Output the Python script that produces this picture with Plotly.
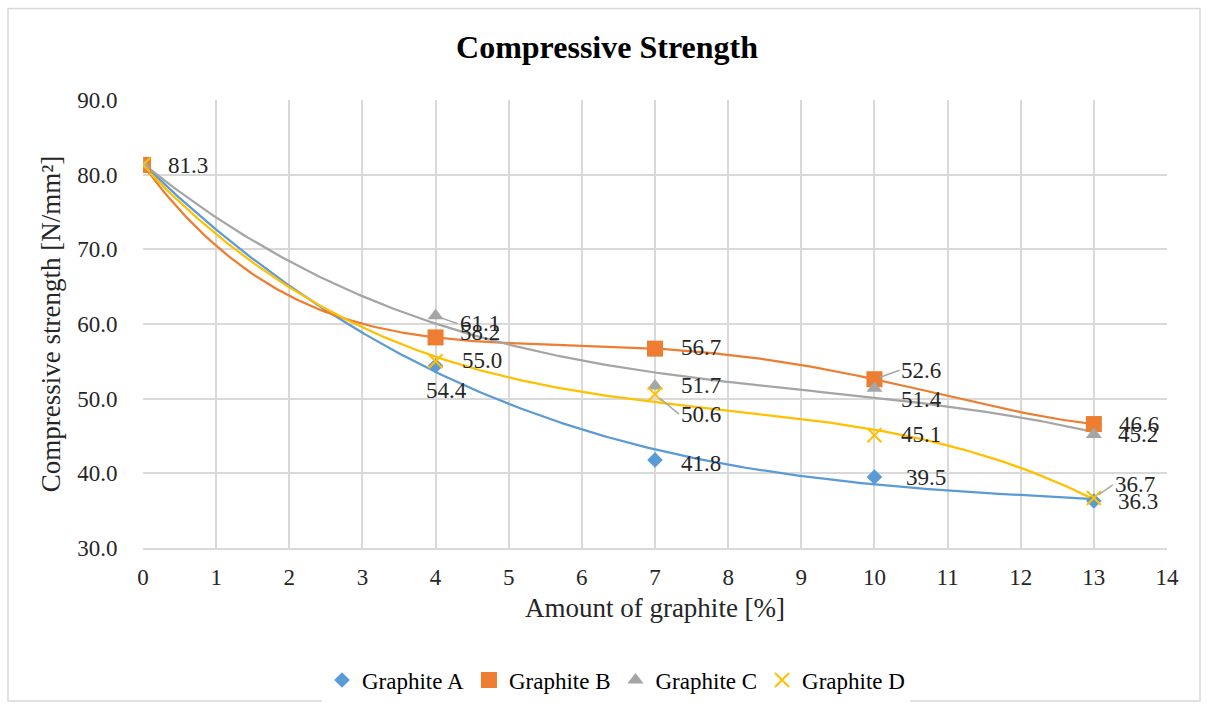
import numpy as np
import plotly.graph_objects as go

# ---- data ----
x_vals = [0, 4, 7, 10, 13]
graphite_a = [81.3, 54.4, 41.8, 39.5, 36.3]
graphite_b = [81.3, 58.2, 56.7, 52.6, 46.6]
graphite_c = [81.3, 61.1, 51.7, 51.4, 45.2]
graphite_d = [81.3, 55.0, 50.6, 45.1, 36.7]
series_names = ["Graphite A", "Graphite B", "Graphite C", "Graphite D"]
trend_orders = [3, 4, 3, 3]
x_ticks = list(range(0, 15))
y_ticks = [30, 40, 50, 60, 70, 80, 90]

# ---- style ----
colors = ["#5B9BD5", "#ED7D31", "#A5A5A5", "#FFC000"]
symbols = ["diamond", "square", "triangle-up", "x-thin"]
sizes = [12, 16, 14, 14]
FONT = "Liberation Serif"
TXT = "#262626"
LBL = 23

fig = go.Figure()
all_series = [graphite_a, graphite_b, graphite_c, graphite_d]

# polynomial trendlines computed from the data
xs = np.linspace(0, 13, 300)
for ys, col, order in zip(all_series, colors, trend_orders):
    coef = np.polyfit(x_vals, ys, order)
    fig.add_trace(go.Scatter(x=xs, y=np.polyval(coef, xs), mode="lines",
                             line=dict(color=col, width=2.25),
                             showlegend=False, hoverinfo="skip"))

for ys, name, col, sym, sz in zip(all_series, series_names, colors, symbols, sizes):
    if sym == "x-thin":
        marker = dict(symbol=sym, size=sz, color=col, line=dict(color=col, width=2))
    else:
        marker = dict(symbol=sym, size=sz, color=col, line=dict(width=0))
    fig.add_trace(go.Scatter(x=x_vals, y=ys, mode="markers", name=name, marker=marker))

# data-label offsets (pixels): (series idx, point idx) -> (xshift, yshift, leader)
offsets = {
    (0, 1): (-1, -25, False), (0, 2): (24, -4, False), (0, 3): (30, 0, False), (0, 4): (22, -1, False),
    (1, 1): (22, 5, False), (1, 2): (24, 1, False), (1, 3): (25, 9, True), (1, 4): (23, 0, False),
    (2, 1): (22, -8, True), (2, 2): (24, 0, False), (2, 3): (25, -11, False), (2, 4): (22, 0, False),
    (3, 1): (24, 1, False), (3, 2): (24, -20, True), (3, 3): (25, 1, False), (3, 4): (19, 13, True),
}
for si, ys in enumerate(all_series):
    for pi, (xv, yv) in enumerate(zip(x_vals, ys)):
        if pi == 0:
            if si != 0:
                continue
            xs_, ys_, lead = 23, -1, False
        else:
            xs_, ys_, lead = offsets[(si, pi)]
        label = f"{yv:.1f}"
        if si == 0 and pi == 1:
            fig.add_annotation(x=xv, y=yv, text=label, showarrow=False, xanchor="center",
                               yanchor="middle", xshift=xs_ + 12, yshift=ys_,
                               font=dict(family=FONT, size=LBL, color=TXT))
        elif lead:
            fig.add_annotation(x=xv, y=yv, text=label, showarrow=True, arrowhead=0,
                               arrowcolor="#A6A6A6", arrowwidth=1.5, ax=xs_, ay=-ys_,
                               standoff=6, xanchor="left", yanchor="middle",
                               font=dict(family=FONT, size=LBL, color=TXT))
        else:
            fig.add_annotation(x=xv, y=yv, text=label, showarrow=False, xanchor="left",
                               yanchor="middle", xshift=xs_, yshift=ys_,
                               font=dict(family=FONT, size=LBL, color=TXT))

# outer chart border
fig.add_shape(type="rect", xref="paper", yref="paper",
              x0=(8 - 143) / 1024, x1=(1200 - 143) / 1024,
              y0=(551 - 705) / 451, y1=(551 - 8) / 451,
              line=dict(color="#D9D9D9", width=1.5), layer="below")

fig.update_layout(
    width=1208, height=713,
    margin=dict(l=143, r=41, t=100, b=162),
    paper_bgcolor="white", plot_bgcolor="white",
    title=dict(text="<b>Compressive Strength</b>", x=(607 - 143) / 1024, xref="paper",
               xanchor="center", y=1 - 47 / 713, yanchor="middle",
               font=dict(family=FONT, size=32, color="black")),
    font=dict(family=FONT, size=23, color=TXT),
    legend=dict(orientation="h", x=(616 - 143) / 1024, xanchor="center",
                y=-(684 - 551) / 451, yanchor="middle",
                font=dict(family=FONT, size=23, color="black"),
                itemwidth=30, tracegroupgap=0),
    showlegend=True,
)
fig.update_xaxes(range=[0, 14], tickvals=x_ticks, showgrid=True, gridcolor="#D9D9D9",
                 gridwidth=2, zeroline=False, showline=True, linecolor="#D9D9D9", linewidth=2,
                 ticks="outside", ticklen=7, tickcolor="rgba(0,0,0,0)",
                 tickfont=dict(family=FONT, size=23, color=TXT),
                 title=dict(text="Amount of graphite [%]", standoff=10,
                            font=dict(family=FONT, size=27, color=TXT)))
fig.update_yaxes(range=[30, 90], tickvals=y_ticks, tickformat=".1f", showgrid=True,
                 gridcolor="#D9D9D9", gridwidth=2, zeroline=False, showline=False,
                 ticks="outside", ticklen=20, tickcolor="rgba(0,0,0,0)",
                 tickfont=dict(family=FONT, size=23, color=TXT),
                 title=dict(text="Compressive strength [N/mm²]", standoff=8,
                            font=dict(family=FONT, size=27, color=TXT)))
fig.write_html("out.html")
